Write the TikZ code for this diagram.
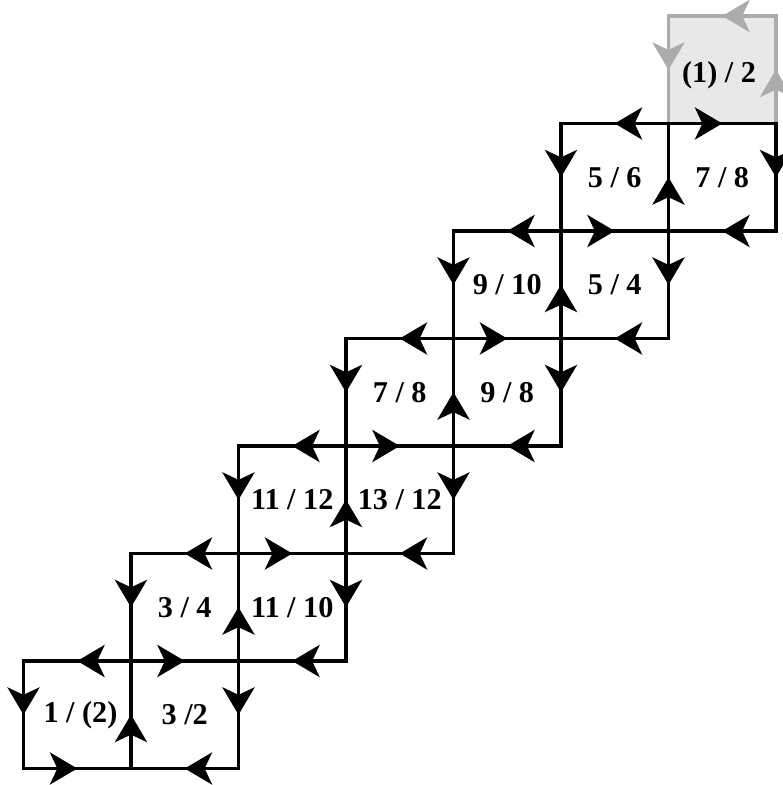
\documentclass[tikz,border=0pt]{standalone}
\usepackage{fontspec}
\setmainfont{Liberation Serif}
\usetikzlibrary{arrows.meta,decorations.markings}

\begin{document}
\begin{tikzpicture}[
        scale=2.0,
        flow/.style={line width=1.6pt, line cap=rect, postaction={decorate}, decoration={markings, mark=at position 0.5 with {\arrow{Stealth[length=5.1mm, width=6mm, inset=1.4mm]}}}},
        faded/.style={flow, black!33},
        cell_label/.style={font=\fontsize{16}{18}\selectfont\bfseries}
    ]
        \useasboundingbox (-0.2186,-0.1535) rectangle (7.065,7.149);

        % Grid corners
        \foreach \x in {0,...,7}
            \foreach \y in {0,...,7}
                \coordinate (p\x\y) at (\x,\y);

        % Shaded cell at the top
        \fill[black!9] (p66) rectangle (p77);
        \draw[faded] (p67) -- (p66);
        \draw[faded] (p77) -- (p67);
        \draw[faded] (p76) -- (p77);

        % Staircase, two cells per row
        \foreach \r/\s/\t in {0/1/2, 1/2/3, 2/3/4, 3/4/5, 4/5/6, 5/6/7} {
            \draw[flow] (p\r\s) -- (p\r\r);
            \draw[flow] (p\s\r) -- (p\s\s);
            \draw[flow] (p\t\s) -- (p\t\r);
            \draw[flow] (p\s\s) -- (p\r\s);
            \draw[flow] (p\s\s) -- (p\t\s);
            \draw[flow] (p\t\r) -- (p\s\r);
        }
        \draw[flow] (p00) -- (p10);

        % Cell labels
        \node[cell_label] (c00) at (0.53,0.5) {1 / (2)};
        \node[cell_label] (c10) at (1.5,0.5) {3 /2};
        \node[cell_label] (c11) at (1.5,1.5) {3 / 4};
        \node[cell_label] (c21) at (2.5,1.5) {11 / 10};
        \node[cell_label] (c22) at (2.5,2.5) {11 / 12};
        \node[cell_label] (c32) at (3.5,2.5) {13 / 12};
        \node[cell_label] (c33) at (3.5,3.5) {7 / 8};
        \node[cell_label] (c43) at (4.5,3.5) {9 / 8};
        \node[cell_label] (c44) at (4.5,4.5) {9 / 10};
        \node[cell_label] (c54) at (5.5,4.5) {5 / 4};
        \node[cell_label] (c55) at (5.5,5.5) {5 / 6};
        \node[cell_label] (c65) at (6.5,5.5) {7 / 8};
        \node[cell_label] (c66) at (6.47,6.45) {(1) / 2};

    \end{tikzpicture}
\end{document}
